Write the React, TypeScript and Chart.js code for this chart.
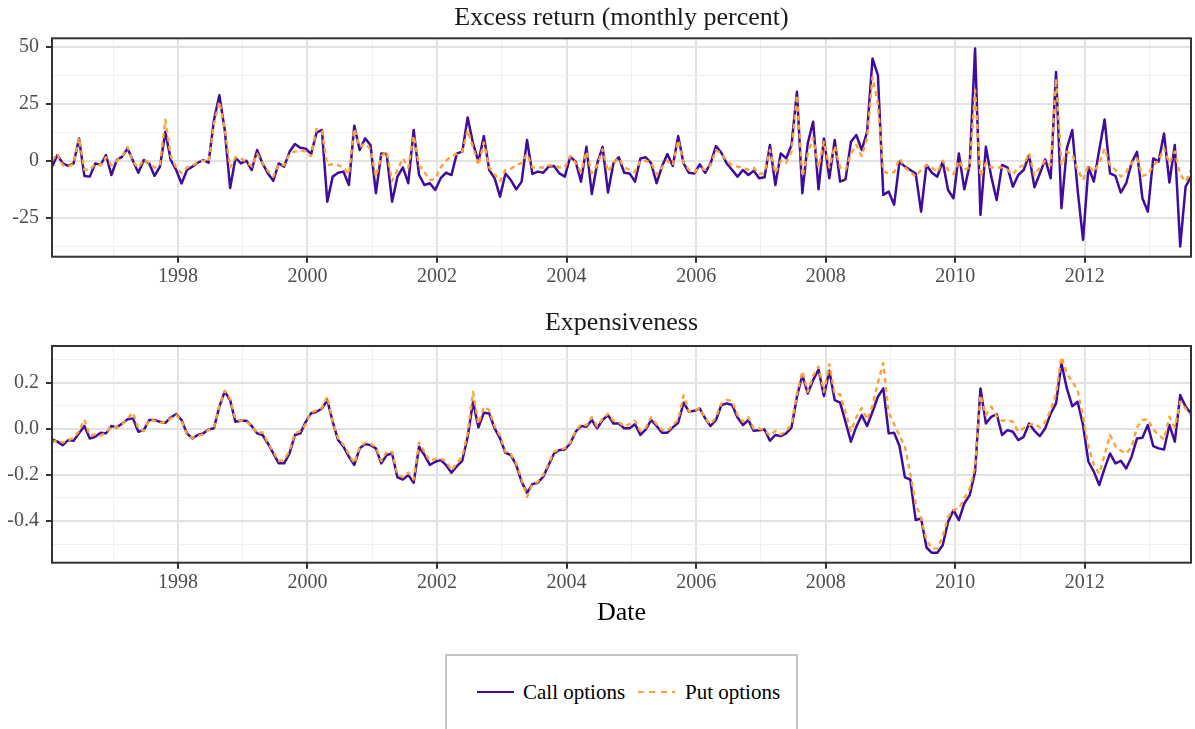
import React, { useEffect, useRef } from 'react';
import { Chart, registerables } from 'chart.js';

Chart.register(...registerables);

// ---- data (monthly, Jan 1996 – Aug 2013) ----
const START_YEAR = 1996;
const MONTH_OFFSET = 0.67;

const callReturn = [
  -2.6, 2.5, -1.2, -2.3, -1.2, 9.8, -6.7, -7, -1.2, -1.9, 2.5, -6.3,
  0.3, 1.8, 5.4, 0, -5.3, 0.3, -1.2, -6.7, -2.6, 12.7, 0.3, -4.1,
  -10, -4.1, -2.6, -0.9, 0.3, -0.9, 17.8, 28.8, 13.5, -12, 1.3, -1.2,
  0, -4.1, 4.7, -1.2, -5.6, -8.8, -1.2, -2.6, 3.9, 7.3, 5.7, 5.3,
  2.9, 12.3, 13.5, -18, -7, -5.3, -4.8, -10.7, 15.4, 4.7, 9.8, 6.9,
  -14.3, 3.2, 2.9, -18, -7, -2.9, -9.9, 13.5, -6.3, -10.7, -9.9, -12.9,
  -7.7, -5.3, -6.3, 3.2, 3.9, 19, 7.6, -0.4, 10.8, -4.1, -7.7, -15.8,
  -5.6, -8.5, -12.6, -9.2, 9.1, -5.8, -4.8, -5.3, -2.6, -2.3, -5.6, -7,
  1.8, -0.4, -9.2, 6.1, -14.6, -1.2, 6.1, -14, -1.2, 1.5, -5.3, -5.6,
  -9.2, 1, 1.5, -1.2, -9.9, -2.6, 2.9, -2.3, 10.8, -1.2, -5.3, -5.6,
  -1.6, -5.3, -1.2, 6.4, 3.5, -1.2, -4.1, -7, -4.1, -6.3, -4.4, -7.7,
  -7.3, 6.9, -10.7, 3.2, 1, 6.9, 30.3, -14.3, 7.6, 17.1, -12.6, 9.8,
  -7.7, 9.1, -9.2, -8.2, 8.3, 11.3, 4.7, 12.7, 44.9, 37.6, -15, -13.6,
  -19.4, -0.4, -2.6, -4.1, -5.6, -22.4, -1.9, -5.3, -7, -0.4, -12.9, -16.5,
  3.2, -12.6, -1.9, 49.3, -23.8, 6.1, -7, -17.3, -1.9, -2.9, -11.4, -6.3,
  -4.1, 2.5, -11.7, -5.6, 0.6, -7.7, 39, -20.9, 5.4, 13.5, -12.9, -34.8,
  -2.9, -9.2, 4.7, 18.1, -5.6, -6.7, -14, -9.9, -0.9, 3.9, -16.5, -22.4,
  1, -0.4, 12, -9.6, 6.9, -37.7, -11.4, -7,
];

const putReturn = [
  0, 3, -2, -2.5, -1.5, 10, -4, -4, -1.5, -2, 1.5, -2,
  0, 2, 6, -0.5, -3, 0.5, -1, -3, -2, 18, 2, -3,
  -5.5, -3, -2, -1, 0, -0.5, 16, 26, 14, -3, 1.5, 1,
  -0.5, -2.5, 3, -1, -4.5, -7, -1.5, -2, 3, 4, 4.5, 4,
  2, 14, 13, -2, -1.5, -2, -3, -6, 14, 6, 7.6, 5,
  -7, 2, 4, -9, -4, 1, -3, 11, -2, -5, -8.5, -8,
  -3, 0, 2, 3, 4, 13.5, 6, -2, 8, -3, -6, -9,
  -4, -3.5, -2, -1, 3, -3, -3, -3, -2, -2, -3, -3,
  2, -1, -5, 4, -5.5, -2, 5, -4.8, -1, 1, -3, -4,
  -5, 0, 0, -1, -6, -3, 0, -2, 9, -1, -4, -5,
  -3, -4, -2, 4.7, 3, 0, -2, -2.6, -3, -4, -3, -6,
  -5, 4.7, -5.5, 0, -1, 4, 28.8, -7, 3, 10, -3, 8.3,
  -3, 6.5, -3, -4, 3, 7, 2, 10, 36.8, 25, -4.8, -5.5,
  -5, 1, -3, -5, -7, -4, -2, -3, -5, 0, -4, -6,
  0, -4, -3, 31, -7, -1, -3, -3, -3, -4, -6, -3,
  -2, 3.2, -6.5, -3, 0, -2, 36, -2, 3.9, 3, -4, -8.5,
  -2, -5, -1, 5.4, -2, -4, -7, -5, -1, 1, -6.7, -6,
  -2, 0, 5.4, -1, 4, -6, -9.2, -4,
];

const callExpensiveness = [
  -0.046, -0.056, -0.071, -0.049, -0.052, -0.02, 0.012, -0.042, -0.035, -0.017, -0.02, 0.012,
  0.006, 0.023, 0.041, 0.045, -0.013, -0.006, 0.038, 0.038, 0.03, 0.026, 0.049, 0.064,
  0.038, -0.02, -0.042, -0.027, -0.02, -0.003, 0.002, 0.096, 0.161, 0.124, 0.03, 0.035,
  0.035, 0.012, -0.02, -0.027, -0.064, -0.107, -0.15, -0.15, -0.107, -0.027, -0.02, 0.03,
  0.067, 0.074, 0.088, 0.124, 0.03, -0.049, -0.078, -0.121, -0.157, -0.085, -0.066, -0.071,
  -0.085, -0.15, -0.114, -0.107, -0.211, -0.22, -0.201, -0.234, -0.078, -0.114, -0.157, -0.143,
  -0.136, -0.157, -0.191, -0.162, -0.139, -0.035, 0.117, 0.006, 0.069, 0.066, 0.002, -0.042,
  -0.104, -0.114, -0.157, -0.23, -0.278, -0.24, -0.234, -0.208, -0.157, -0.107, -0.092, -0.09,
  -0.064, -0.013, 0.012, 0.009, 0.038, 0.002, 0.038, 0.059, 0.023, 0.023, 0.002, 0.002,
  0.02, -0.027, -0.003, 0.038, 0.012, -0.017, -0.017, 0.006, 0.026, 0.113, 0.074, 0.078,
  0.088, 0.045, 0.012, 0.038, 0.103, 0.11, 0.103, 0.049, 0.016, 0.038, -0.009, -0.006,
  -0.003, -0.052, -0.027, -0.032, -0.02, 0.006, 0.139, 0.233, 0.153, 0.211, 0.257, 0.142,
  0.252, 0.124, 0.113, 0.03, -0.056, 0.009, 0.059, 0.012, 0.074, 0.139, 0.175, -0.02,
  -0.017, -0.075, -0.211, -0.22, -0.396, -0.389, -0.515, -0.538, -0.538, -0.505, -0.404, -0.353,
  -0.396, -0.324, -0.288, -0.186, 0.175, 0.023, 0.052, 0.064, -0.027, -0.006, -0.013, -0.049,
  -0.035, 0.023, -0.009, -0.032, 0.002, 0.066, 0.11, 0.284, 0.175, 0.098, 0.117, 0.016,
  -0.143, -0.186, -0.244, -0.172, -0.107, -0.15, -0.139, -0.172, -0.121, -0.042, -0.039, 0.016,
  -0.075, -0.085, -0.09, 0.016, -0.056, 0.146, 0.096, 0.066,
];

const putExpensiveness = [
  -0.06, -0.05, -0.06, -0.05, -0.04, -0.01, 0.04, -0.03, -0.025, -0.03, -0.015, 0.01,
  0.005, 0.02, 0.045, 0.07, 0.0, -0.01, 0.04, 0.035, 0.025, 0.03, 0.045, 0.06,
  0.035, -0.025, -0.04, -0.03, -0.025, -0.005, 0.005, 0.1, 0.165, 0.13, 0.04, 0.035,
  0.03, 0.015, -0.02, -0.015, -0.06, -0.1, -0.14, -0.135, -0.095, -0.02, -0.01, 0.02,
  0.07, 0.08, 0.09, 0.14, 0.03, -0.04, -0.07, -0.11, -0.15, -0.08, -0.06, -0.065,
  -0.08, -0.14, -0.1, -0.1, -0.2, -0.21, -0.19, -0.22, -0.06, -0.1, -0.14, -0.13,
  -0.13, -0.14, -0.18, -0.15, -0.12, -0.02, 0.16, 0.02, 0.095, 0.08, 0.01, -0.03,
  -0.1, -0.11, -0.15, -0.22, -0.295, -0.24, -0.23, -0.2, -0.15, -0.1, -0.09, -0.085,
  -0.06, -0.01, 0.02, 0.015, 0.05, 0.01, 0.045, 0.065, 0.035, 0.03, 0.01, 0.02,
  0.035, -0.01, 0.005, 0.05, 0.02, -0.005, -0.01, 0.015, 0.04, 0.145, 0.075, 0.08,
  0.09, 0.045, 0.02, 0.05, 0.11, 0.125, 0.12, 0.06, 0.03, 0.05, 0.0, 0.0,
  -0.005, -0.03, -0.01, -0.025, -0.01, 0.02, 0.15, 0.25, 0.16, 0.23, 0.27, 0.16,
  0.28, 0.15, 0.15, 0.07, -0.01, 0.05, 0.09, 0.04, 0.1, 0.2, 0.285, 0.07,
  0.02, -0.03, -0.078, -0.194, -0.324, -0.389, -0.483, -0.519, -0.519, -0.468, -0.382, -0.353,
  -0.346, -0.302, -0.259, -0.165, 0.146, 0.059, 0.096, 0.055, 0.035, 0.038, 0.03, -0.013,
  0.002, 0.016, 0.023, 0.006, 0.03, 0.081, 0.153, 0.312, 0.24, 0.204, 0.168, 0.052,
  -0.078, -0.157, -0.194, -0.114, -0.027, -0.075, -0.095, -0.107, -0.078, 0.006, 0.038, 0.041,
  -0.003, -0.027, -0.046, 0.052, 0.006, 0.117, 0.088, 0.059,
];

const yearTicks = [1997, 1998, 1999, 2000, 2001, 2002, 2003, 2004, 2005, 2006, 2007, 2008, 2009, 2010, 2011, 2012, 2013];
const yearLabels = [1998, 2000, 2002, 2004, 2006, 2008, 2010, 2012];
const returnTicks = [-37.5, -25, -12.5, 0, 12.5, 25, 37.5, 50];
const returnLabels = [-25, 0, 25, 50];
const expTicks = [-0.5, -0.4, -0.3, -0.2, -0.1, 0, 0.1, 0.2, 0.3];
const expLabels = [-0.4, -0.2, 0, 0.2];

const SERIF = "'Liberation Serif', 'Times New Roman', serif";
const CALL_COLOR = '#3f0c9c';
const PUT_COLOR = '#fca236';

const has = (arr: number[], v: number) => arr.some((a) => Math.abs(a - v) < 1e-9);

const toPoints = (vals: number[]) =>
  vals.map((v, i) => ({ x: START_YEAR + (i + MONTH_OFFSET) / 12, y: v }));

const borderPlugin = {
  id: 'panelBorder',
  afterDatasetsDraw(chart: any) {
    const { ctx, chartArea: a } = chart;
    ctx.save();
    ctx.strokeStyle = '#333333';
    ctx.lineWidth = 2;
    ctx.strokeRect(a.left, a.top, a.right - a.left, a.bottom - a.top);
    ctx.restore();
  },
};

type PanelCfg = {
  title: string;
  call: number[];
  put: number[];
  yMin: number;
  yMax: number;
  yTicks: number[];
  yLabels: number[];
  fmt: (v: number) => string;
  titlePadTop: number;
  titlePadBottom: number;
  xAxisHeight: number;
  xTitle?: string;
};

function makeChart(canvas: HTMLCanvasElement, cfg: PanelCfg) {
  const callPts = toPoints(cfg.call);
  const putPts = toPoints(cfg.put);
  const xMin = callPts[0].x;
  const xMax = callPts[callPts.length - 1].x;
  const majorX = (v: number) => has(yearLabels, v);
  const majorY = (v: number) => has(cfg.yLabels, v);

  return new Chart(canvas, {
    type: 'line',
    data: {
      datasets: [
        {
          label: 'Put options',
          data: putPts,
          borderColor: PUT_COLOR,
          borderWidth: 2.4,
          borderDash: [5, 4],
          borderJoinStyle: 'round',
          pointRadius: 0,
          tension: 0,
          fill: false,
          order: 0,
        },
        {
          label: 'Call options',
          data: callPts,
          borderColor: CALL_COLOR,
          borderWidth: 2.5,
          borderJoinStyle: 'round',
          pointRadius: 0,
          tension: 0,
          fill: false,
          order: 1,
        },
      ],
    },
    options: {
      animation: false,
      responsive: false,
      devicePixelRatio: 1,
      layout: { padding: { left: 0, right: 4, top: 0, bottom: 0 } },
      plugins: {
        legend: { display: false },
        tooltip: { enabled: false },
        title: {
          display: true,
          text: cfg.title,
          fullSize: false,
          color: '#1a1a1a',
          font: { family: SERIF, size: 26, weight: 'normal', lineHeight: 1.2 },
          padding: { top: cfg.titlePadTop, bottom: cfg.titlePadBottom },
        },
      },
      scales: {
        x: {
          type: 'linear',
          min: xMin,
          max: xMax,
          afterBuildTicks: (s: any) => {
            s.ticks = yearTicks.map((v) => ({ value: v }));
          },
          afterFit: (s: any) => {
            s.height = cfg.xAxisHeight;
          },
          ticks: {
            autoSkip: false,
            maxRotation: 0,
            padding: 2,
            color: '#4d4d4d',
            font: { family: SERIF, size: 20 },
            callback: (v: any) => (majorX(Number(v)) ? String(v) : ''),
          },
          grid: {
            color: (c: any) => (majorX(c.tick?.value) ? '#e2e2e2' : '#efefef'),
            lineWidth: (c: any) => (majorX(c.tick?.value) ? 2 : 1),
            tickColor: (c: any) => (majorX(c.tick?.value) ? '#333333' : 'rgba(0,0,0,0)'),
            tickWidth: 2,
            tickLength: 6,
            drawTicks: true,
          },
          border: { display: false },
          title: cfg.xTitle
            ? {
                display: true,
                text: cfg.xTitle,
                color: '#000000',
                font: { family: SERIF, size: 26, lineHeight: 1.2 },
                padding: { top: 0, bottom: 11 },
              }
            : { display: false },
        },
        y: {
          type: 'linear',
          min: cfg.yMin,
          max: cfg.yMax,
          afterBuildTicks: (s: any) => {
            s.ticks = cfg.yTicks.map((v) => ({ value: v }));
          },
          afterFit: (s: any) => {
            s.width = 52;
          },
          ticks: {
            autoSkip: false,
            padding: 7,
            color: '#4d4d4d',
            font: { family: SERIF, size: 20 },
            callback: (v: any) => (majorY(Number(v)) ? cfg.fmt(Number(v)) : ''),
          },
          grid: {
            color: (c: any) => (majorY(c.tick?.value) ? '#e2e2e2' : '#efefef'),
            lineWidth: (c: any) => (majorY(c.tick?.value) ? 2 : 1),
            tickColor: (c: any) => (majorY(c.tick?.value) ? '#333333' : 'rgba(0,0,0,0)'),
            tickWidth: 2,
            tickLength: 6,
            drawTicks: true,
          },
          border: { display: false },
        },
      },
    } as any,
    plugins: [borderPlugin],
  });
}

export default function App() {
  const topRef = useRef<HTMLCanvasElement>(null);
  const botRef = useRef<HTMLCanvasElement>(null);

  useEffect(() => {
    const c1 = makeChart(topRef.current!, {
      title: 'Excess return (monthly percent)',
      call: callReturn,
      put: putReturn,
      yMin: -42.2,
      yMax: 53.8,
      yTicks: returnTicks,
      yLabels: returnLabels,
      fmt: (v) => String(v),
      titlePadTop: 2.5,
      titlePadBottom: 4.6,
      xAxisHeight: 33.3,
    });
    const c2 = makeChart(botRef.current!, {
      title: 'Expensiveness',
      call: callExpensiveness,
      put: putExpensiveness,
      yMin: -0.581,
      yMax: 0.359,
      yTicks: expTicks,
      yLabels: expLabels,
      fmt: (v) => v.toFixed(1),
      titlePadTop: 18,
      titlePadBottom: 6.8,
      xAxisHeight: 77.3,
      xTitle: 'Date',
    });
    return () => {
      c1.destroy();
      c2.destroy();
    };
  }, []);

  const legendText: React.CSSProperties = {
    position: 'absolute',
    top: 679,
    fontFamily: SERIF,
    fontSize: 21,
    lineHeight: '26px',
    color: '#000000',
    whiteSpace: 'nowrap',
  };

  return (
    <div
      style={{
        position: 'fixed',
        left: 0,
        top: 0,
        width: 1195,
        height: 729,
        overflow: 'hidden',
        background: '#ffffff',
      }}
    >
      <canvas
        ref={topRef}
        width={1195}
        height={290}
        style={{ position: 'absolute', left: 0, top: 0, width: 1195, height: 290 }}
      />
      <canvas
        ref={botRef}
        width={1195}
        height={350}
        style={{ position: 'absolute', left: 0, top: 290, width: 1195, height: 350 }}
      />
      <div
        style={{
          position: 'absolute',
          left: 445,
          top: 654,
          width: 353,
          height: 120,
          border: '2px solid #c6c6c6',
          boxSizing: 'border-box',
        }}
      />
      <div
        style={{
          position: 'absolute',
          left: 477,
          top: 690.5,
          width: 37,
          height: 2.5,
          background: CALL_COLOR,
        }}
      />
      <span style={{ ...legendText, left: 523 }}>Call options</span>
      <div
        style={{
          position: 'absolute',
          left: 638,
          top: 690.5,
          width: 37,
          height: 2.5,
          background: `repeating-linear-gradient(to right, ${PUT_COLOR} 0px, ${PUT_COLOR} 6px, transparent 6px, transparent 11.5px)`,
        }}
      />
      <span style={{ ...legendText, left: 685 }}>Put options</span>
    </div>
  );
}
